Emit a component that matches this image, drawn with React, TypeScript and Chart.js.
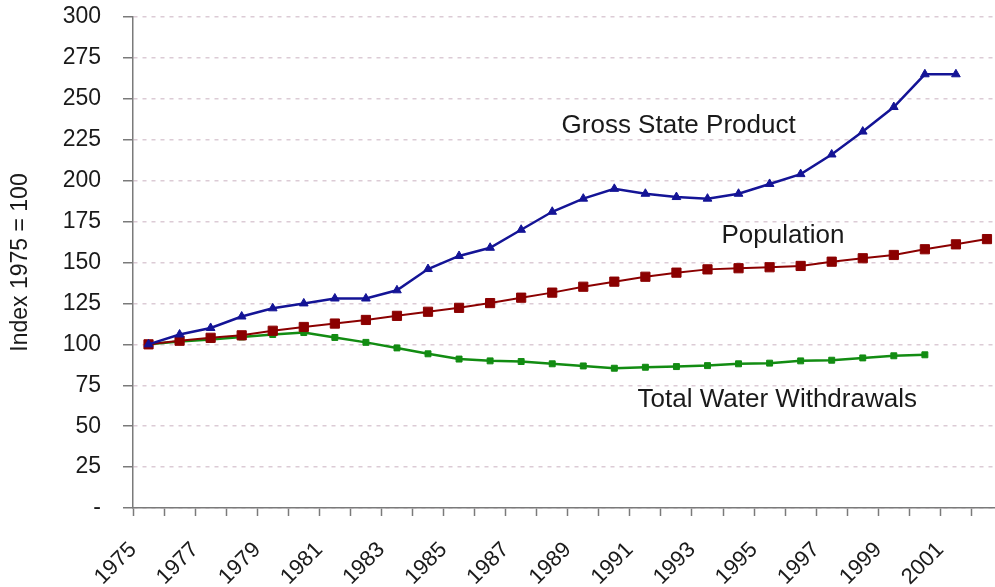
import React, { useEffect, useRef } from 'react';
import { Chart, registerables } from 'chart.js';

Chart.register(...registerables);

const years = [
  '1975', '1976', '1977', '1978', '1979', '1980', '1981', '1982', '1983', '1984',
  '1985', '1986', '1987', '1988', '1989', '1990', '1991', '1992', '1993', '1994',
  '1995', '1996', '1997', '1998', '1999', '2000', '2001', '2002',
];

const grossStateProduct = [
  100, 106, 110, 117, 122, 125, 128, 128, 133, 146,
  154, 159, 170, 181, 189, 195, 192, 190, 189, 192,
  198, 204, 216, 230, 245, 265, 265,
];

const population = [
  100, 102.2, 104, 105.5, 108.3, 110.6, 112.7, 114.9, 117.4, 119.9,
  122.3, 125.2, 128.5, 131.6, 135.2, 138.3, 141.3, 143.8, 145.8, 146.5,
  147.1, 147.9, 150.5, 152.6, 154.6, 158.1, 161.1, 164.3,
];

const waterWithdrawals = [
  100, 101.8, 103, 104.5, 106, 107.2, 104.2, 101.2, 97.8, 94.2,
  91, 89.9, 89.5, 88.1, 86.8, 85.4, 86.0, 86.4, 87.0, 88.1,
  88.5, 89.9, 90.3, 91.7, 93.0, 93.6,
];

const yMin = 0;
const yMax = 300;
const yStep = 25;
const yTitle = 'Index 1975 = 100';

// annotation anchors in data space: x = category index, y = value
const seriesLabels = [
  { text: 'Gross State Product', x: 13.3, y: 233.3 },
  { text: 'Population', x: 18.45, y: 166.2 },
  { text: 'Total Water Withdrawals', x: 15.75, y: 66.0 },
];

const FONT = '"Liberation Sans", Arial, Helvetica, sans-serif';

const labelPlugin = {
  id: 'seriesLabels',
  afterDraw(chart: any) {
    const { ctx, scales } = chart;
    const xs = scales.x;
    const ys = scales.y;
    ctx.save();
    ctx.font = `26px ${FONT}`;
    ctx.fillStyle = '#1a1a1a';
    ctx.textAlign = 'left';
    ctx.textBaseline = 'middle';
    seriesLabels.forEach((l) => {
      ctx.fillText(l.text, xs.getPixelForValue(l.x), ys.getPixelForValue(l.y));
    });
    ctx.restore();
  },
};

export default function App() {
  const canvasRef = useRef<HTMLCanvasElement | null>(null);

  useEffect(() => {
    document.body.style.margin = '0';
    document.body.style.overflow = 'hidden';
    const canvas = canvasRef.current;
    if (!canvas) return;
    const chart = new Chart(canvas, {
      type: 'line',
      data: {
        labels: years,
        datasets: [
          {
            label: 'Gross State Product',
            data: grossStateProduct,
            borderColor: '#141496',
            backgroundColor: '#141496',
            borderWidth: 2.5,
            pointStyle: 'triangle',
            pointRadius: 5,
            pointBorderWidth: 1,
            tension: 0,
          },
          {
            label: 'Population',
            data: population,
            borderColor: '#8b0000',
            backgroundColor: '#8b0000',
            borderWidth: 2,
            pointStyle: 'rect',
            pointRadius: 6.5,
            pointBorderWidth: 1,
            tension: 0,
          },
          {
            label: 'Total Water Withdrawals',
            data: waterWithdrawals,
            borderColor: '#128c12',
            backgroundColor: '#128c12',
            borderWidth: 2.5,
            pointStyle: 'rect',
            pointRadius: 4.2,
            pointBorderWidth: 1,
            tension: 0,
          },
        ],
      },
      options: {
        animation: false,
        responsive: false,
        devicePixelRatio: 1,
        layout: { padding: { top: 17, right: 7, bottom: 0, left: 0 } },
        plugins: {
          legend: { display: false },
          tooltip: { enabled: false },
        },
        scales: {
          x: {
            type: 'category',
            offset: true,
            grid: {
              offset: true,
              drawOnChartArea: false,
              drawTicks: true,
              tickLength: 8,
              tickColor: '#7a7a7a',
              tickWidth: 1.5,
            },
            border: { display: true, color: '#7a7a7a', width: 1.5 },
            ticks: {
              autoSkip: false,
              maxRotation: 45,
              minRotation: 45,
              padding: 21,
              labelOffset: -15.5,
              color: '#1a1a1a',
              font: { family: FONT, size: 22 },
              callback: (_v: any, i: number) => (i % 2 === 0 ? years[i] : ''),
            },
            afterFit: (s: any) => {
              s.height = 79;
              s.paddingLeft = 0;
              s.paddingRight = 0;
            },
          },
          y: {
            min: yMin,
            max: yMax,
            grid: {
              color: '#dccbd5',
              lineWidth: 1.5,
              tickColor: '#7a7a7a',
              tickWidth: 1.5,
              tickLength: 10,
              tickBorderDash: [],
            },
            border: { display: true, color: '#7a7a7a', width: 1.5, dash: [4, 5] },
            ticks: {
              stepSize: yStep,
              padding: 22,
              color: '#1a1a1a',
              font: { family: FONT, size: 23 },
              callback: (v: any) => (v === 0 ? '-' : String(v)),
            },
            title: {
              display: true,
              text: yTitle,
              color: '#1a1a1a',
              font: { family: FONT, size: 23 },
              padding: { top: 7, bottom: 0 },
            },
            afterFit: (s: any) => {
              s.width = 133;
              s.paddingTop = 0;
              s.paddingBottom = 0;
            },
          },
        },
      },
      plugins: [labelPlugin],
    });
    return () => chart.destroy();
  }, []);

  return (
    <div style={{ width: 995, height: 587, overflow: 'hidden', position: 'relative', background: '#fff' }}>
      <canvas ref={canvasRef} width={1010} height={587} style={{ display: 'block' }} />
    </div>
  );
}
